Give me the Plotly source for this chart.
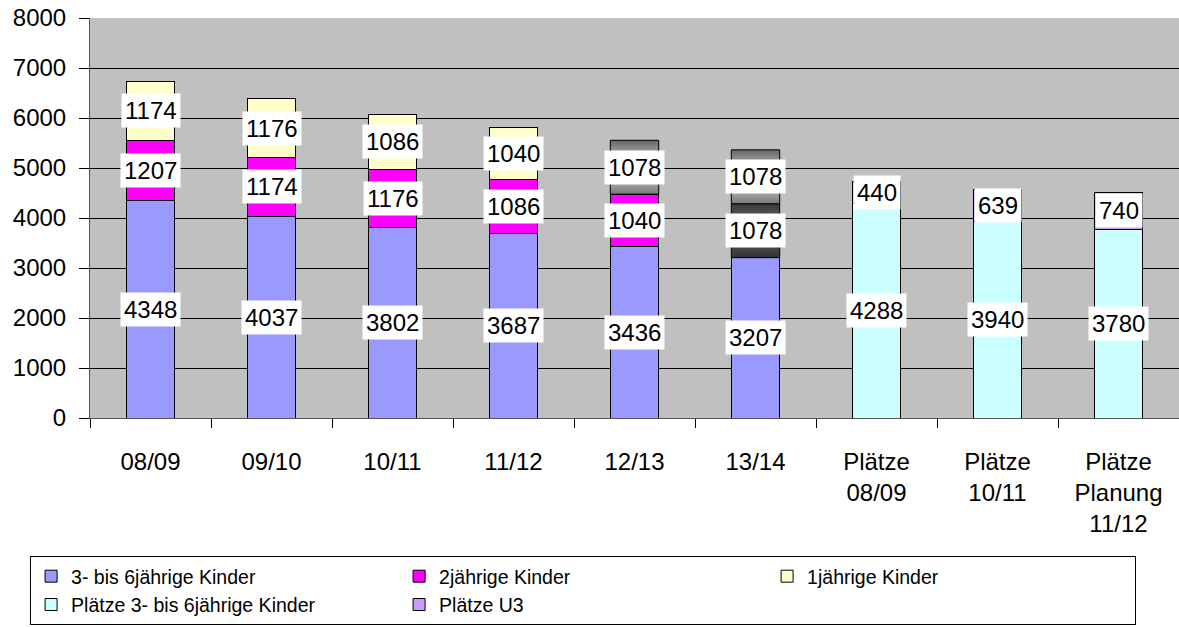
import plotly.graph_objects as go

# Kita-Bedarf: Kinder nach Jahrgang und Plätze
categories = ["08/09", "09/10", "10/11", "11/12", "12/13", "13/14",
              "Plätze<br>08/09", "Plätze<br>10/11", "Plätze<br>Planung<br>11/12"]

kinder_3_6 = [4348, 4037, 3802, 3687, 3436, 3207, None, None, None]
kinder_2 = [1207, 1174, 1176, 1086, 1040, None, None, None, None]
kinder_1 = [1174, 1176, 1086, 1040, None, None, None, None, None]
plaetze_3_6 = [None, None, None, None, None, None, 4288, 3940, 3780]
plaetze_u3 = [None, None, None, None, None, None, 440, 639, 740]

# Prognosewerte (als Verlauf dargestellt)
kinder_2_prognose = [None, None, None, None, None, 1078, None, None, None]
kinder_1_prognose = [None, None, None, None, 1078, 1078, None, None, None]

FONT = "Liberation Sans, Arial, sans-serif"
BAR_W = 0.4
x = list(range(len(categories)))

fig = go.Figure()

series = [
    ("3- bis 6jährige Kinder", kinder_3_6, "#9999FF"),
    ("2jährige Kinder", kinder_2, "#FF00FF"),
    ("1jährige Kinder", kinder_1, "#FFFFCC"),
    ("Plätze 3- bis 6jährige Kinder", plaetze_3_6, "#CCFFFF"),
    ("Plätze U3", plaetze_u3, "#CC99FF"),
]
for name, vals, color in series:
    fig.add_trace(go.Bar(
        x=x, y=vals, name=name, width=BAR_W,
        marker=dict(color=color, line=dict(color="#000000", width=1)),
        hoverinfo="skip",
    ))

# stacked bases for every category
base = [0.0] * len(categories)
labels = []  # (x, y-center, value)


def stack(vals):
    out = []
    for i, v in enumerate(vals):
        if v is not None:
            out.append((i, base[i], v))
            labels.append((i, base[i] + v / 2, v))
            base[i] += v
    return out


stack(kinder_3_6)
stack(plaetze_3_6)
stack(kinder_2)
seg_2p = stack(kinder_2_prognose)
stack(kinder_1)
seg_1p = stack(kinder_1_prognose)
stack(plaetze_u3)

grad_light = [[0.0, "#7a7a7a"], [0.5, "#e0e0e0"], [1.0, "#666666"]]
grad_dark = [[0.0, "#333333"], [0.5, "#6a6a6a"], [1.0, "#3c3c3c"]]

for segs, scale in ((seg_2p, grad_dark), (seg_1p, grad_light)):
    for i, b, v in segs:
        x0, x1 = i - BAR_W / 2, i + BAR_W / 2
        fig.add_trace(go.Scatter(
            x=[x0, x1, x1, x0, x0], y=[b, b, b + v, b + v, b],
            mode="lines", fill="toself",
            fillgradient=dict(type="vertical", colorscale=scale),
            line=dict(color="#000000", width=1),
            showlegend=False, hoverinfo="skip",
        ))

for i, yc, v in labels:
    fig.add_annotation(
        x=i, y=yc, text=str(v), showarrow=False,
        font=dict(family=FONT, size=24, color="#000000"),
        bgcolor="#FFFFFF", borderpad=3,
    )

fig.update_layout(
    width=1179, height=627,
    margin=dict(l=90, r=0, t=18, b=209, autoexpand=False),
    paper_bgcolor="#FFFFFF", plot_bgcolor="#C0C0C0",
    barmode="stack",
    font=dict(family=FONT, size=24, color="#000000"),
    showlegend=True,
    legend=dict(
        orientation="h", x=-0.055, xanchor="left", y=-0.345, yanchor="top",
        entrywidth=323, entrywidthmode="pixels",
        font=dict(family=FONT, size=19.5, color="#000000"),
        bgcolor="#FFFFFF", bordercolor="#000000", borderwidth=1,
        itemwidth=30, traceorder="normal",
    ),
)

fig.update_xaxes(
    range=[-0.5, 8.5], tickvals=x, ticktext=categories,
    ticks="", showgrid=False, zeroline=False, automargin=False,
    showline=True, linecolor="#555555", linewidth=1,
    ticklabelstandoff=22,
    tickfont=dict(family=FONT, size=24, color="#000000"),
    minor=dict(tickvals=[k - 0.5 for k in range(len(categories) + 1)],
               ticks="outside", ticklen=9, tickcolor="#000000", showgrid=False),
)
fig.update_yaxes(
    range=[0, 8000], dtick=1000, tickformat="d",
    showgrid=True, gridcolor="#000000", gridwidth=1, zeroline=False,
    showline=True, linecolor="#555555", linewidth=1, automargin=False,
    ticks="outside", ticklen=10, tickcolor="#000000", ticklabelstandoff=8,
    tickfont=dict(family=FONT, size=24, color="#000000"),
)

fig.write_html("out.html")
